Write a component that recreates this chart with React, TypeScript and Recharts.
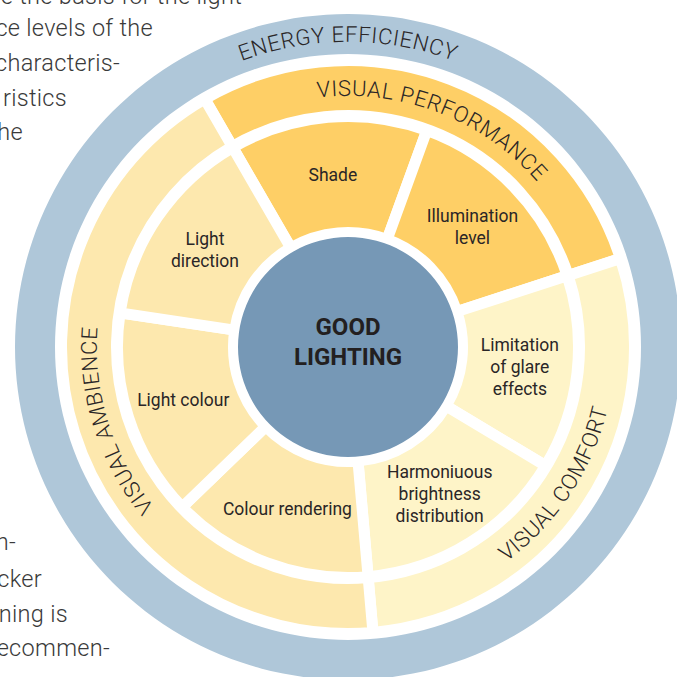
import React from 'react';
import { PieChart, Pie, Cell } from 'recharts';

// ---------- data ----------
const innerCategories = [
  'Shade',
  'Illumination\nlevel',
  'Limitation\nof glare\neffects',
  'Harmoniuous\nbrightness\ndistribution',
  'Colour rendering',
  'Light colour',
  'Light\ndirection',
];
const innerValues = [50, 52, 49, 54, 51, 52.5, 51.5];
const innerGroups = ['performance', 'performance', 'comfort', 'comfort', 'ambience', 'ambience', 'ambience'];

const outerCategories = ['VISUAL PERFORMANCE', 'VISUAL COMFORT', 'VISUAL AMBIENCE'];
const outerValues = [102, 103, 155];
const outerGroups = ['performance', 'comfort', 'ambience'];

const frameCategories = ['ENERGY EFFICIENCY'];
const frameValues = [1];

const coreCategories = ['GOOD\nLIGHTING'];
const coreValues = [1];

const sideTextTop = ['e the basis for the light', 'ce levels of the', 'characteris-', 'ristics', 'he'];
const sideTextBottom = ['n-', 'cker', 'ning is', 'ecommen-'];

// ---------- styles / layout ----------
const W = 677;
const H = 677;
const CX = 348;
const CY = 347;
const GAP = 11;
const FONT = 'Roboto, "Noto Sans", sans-serif';

const groupColors: Record<string, string> = {
  performance: '#FECF66',
  comfort: '#FEF4C8',
  ambience: '#FDE8AE',
};
const frameColor = '#AFC7D9';
const coreColor = '#7698B6';
const textColor = '#2a2627';

const ccwLabels = ['VISUAL COMFORT'];

const sideTopLayout = { endX: [242, 153, 120, 67, 23], baseY: [4, 36, 71, 106, 140] };
const sideBottomLayout = { endX: [16, 42, 68, 110], baseY: [550, 587, 622, 656] };

const innerData = innerCategories.map((name, i) => ({ name, value: innerValues[i], group: innerGroups[i] }));
const outerData = outerCategories.map((name, i) => ({ name, value: outerValues[i], group: outerGroups[i] }));
const frameData = frameCategories.map((name, i) => ({ name, value: frameValues[i] }));
const coreData = coreCategories.map((name, i) => ({ name, value: coreValues[i] }));

const RAD = Math.PI / 180;

function getName(props: any): string {
  return (props.payload && props.payload.name) || props.name || '';
}

function makeArcLabel(textRadius: number, fontSize: number, tag: string) {
  return (props: any) => {
    const { cx, cy, midAngle, index } = props;
    const name = getName(props);
    const ccw = ccwLabels.includes(name);
    const cap = fontSize * 0.711;
    const r = ccw ? textRadius + cap / 2 : textRadius - cap / 2;
    const h = 45;
    const a1 = ccw ? midAngle - h : midAngle + h;
    const a2 = ccw ? midAngle + h : midAngle - h;
    const x1 = cx + r * Math.cos(a1 * RAD);
    const y1 = cy - r * Math.sin(a1 * RAD);
    const x2 = cx + r * Math.cos(a2 * RAD);
    const y2 = cy - r * Math.sin(a2 * RAD);
    const sweep = ccw ? 0 : 1;
    const d = `M${x1},${y1} A${r},${r} 0 0 ${sweep} ${x2},${y2}`;
    const id = `arc-${tag}-${index}`;
    return (
      <g key={id}>
        <defs>
          <path id={id} d={d} fill="none" />
        </defs>
        <text
          fontFamily={FONT}
          fontWeight={300}
          fontSize={fontSize}
          fill={textColor}
          letterSpacing={0.6}
        >
          <textPath href={`#${id}`} startOffset="50%" textAnchor="middle">
            {name}
          </textPath>
        </text>
      </g>
    );
  };
}

const renderInnerLabel = (props: any) => {
  const { cx, cy, midAngle, index } = props;
  const name = getName(props);
  const r = 173;
  const x = cx + r * Math.cos(midAngle * RAD);
  const y = cy - r * Math.sin(midAngle * RAD);
  const lines = name.split('\n');
  const lh = 22;
  return (
    <text
      key={`inner-${index}`}
      x={x}
      y={y}
      textAnchor="middle"
      fontFamily={FONT}
      fontSize={17.5}
      fill={textColor}
    >
      {lines.map((l, i) => (
        <tspan key={i} x={x} y={y + (i - (lines.length - 1) / 2) * lh} dy="0.35em">
          {l}
        </tspan>
      ))}
    </text>
  );
};

const renderCoreLabel = (props: any) => {
  const { cx, cy } = props;
  const name = getName(props);
  const lines = name.split('\n');
  const lh = 30;
  return (
    <text
      key="core"
      x={cx}
      y={cy}
      textAnchor="middle"
      fontFamily={FONT}
      fontWeight={700}
      fontSize={24}
      fill="#231f20"
    >
      {lines.map((l, i) => (
        <tspan key={i} x={cx} y={cy - 5 + (i - (lines.length - 1) / 2) * lh} dy="0.35em">
          {l}
        </tspan>
      ))}
    </text>
  );
};

export default function App() {
  return (
    <div style={{ position: 'absolute', left: 0, top: 0, width: W, height: H, background: '#fff', overflow: 'hidden' }}>
      <PieChart width={W} height={H} margin={{ top: 0, right: 0, bottom: 0, left: 0 }}>
        <Pie
          data={frameData}
          dataKey="value"
          nameKey="name"
          cx={CX}
          cy={CY}
          innerRadius={293}
          outerRadius={333}
          startAngle={270}
          endAngle={-90}
          stroke="none"
          isAnimationActive={false}
          label={makeArcLabel(313, 22, 'frame')}
          labelLine={false}
        >
          {frameData.map((d, i) => (
            <Cell key={i} fill={frameColor} />
          ))}
        </Pie>
        <Pie
          data={outerData}
          dataKey="value"
          nameKey="name"
          cx={CX}
          cy={CY}
          innerRadius={237 - GAP / 2}
          outerRadius={281 + GAP / 2}
          startAngle={120}
          endAngle={-240}
          stroke="#fff"
          strokeWidth={GAP}
          isAnimationActive={false}
          label={makeArcLabel(259, 22, 'outer')}
          labelLine={false}
        >
          {outerData.map((d, i) => (
            <Cell key={i} fill={groupColors[d.group]} stroke="#fff" strokeWidth={GAP} />
          ))}
        </Pie>
        <Pie
          data={innerData}
          dataKey="value"
          nameKey="name"
          cx={CX}
          cy={CY}
          innerRadius={120 - GAP / 2}
          outerRadius={225 + GAP / 2}
          startAngle={120}
          endAngle={-240}
          stroke="#fff"
          strokeWidth={GAP}
          isAnimationActive={false}
          label={renderInnerLabel}
          labelLine={false}
        >
          {innerData.map((d, i) => (
            <Cell key={i} fill={groupColors[d.group]} stroke="#fff" strokeWidth={GAP} />
          ))}
        </Pie>
        <Pie
          data={coreData}
          dataKey="value"
          nameKey="name"
          cx={CX}
          cy={CY}
          innerRadius={0}
          outerRadius={110}
          startAngle={90}
          endAngle={-270}
          stroke="none"
          isAnimationActive={false}
          label={renderCoreLabel}
          labelLine={false}
        >
          {coreData.map((d, i) => (
            <Cell key={i} fill={coreColor} />
          ))}
        </Pie>
      </PieChart>
      <svg
        width={W}
        height={H}
        style={{ position: 'absolute', left: 0, top: 0, pointerEvents: 'none' }}
      >
        {sideTextTop.map((t, i) => (
          <text
            key={`t${i}`}
            x={sideTopLayout.endX[i]}
            y={sideTopLayout.baseY[i]}
            textAnchor="end"
            fontFamily={FONT}
            fontWeight={300}
            fontSize={23.5}
            letterSpacing={0.3}
            fill="#3a3a3a"
          >
            {t}
          </text>
        ))}
        {sideTextBottom.map((t, i) => (
          <text
            key={`b${i}`}
            x={sideBottomLayout.endX[i]}
            y={sideBottomLayout.baseY[i]}
            textAnchor="end"
            fontFamily={FONT}
            fontWeight={300}
            fontSize={23.5}
            letterSpacing={0.3}
            fill="#3a3a3a"
          >
            {t}
          </text>
        ))}
      </svg>
    </div>
  );
}
